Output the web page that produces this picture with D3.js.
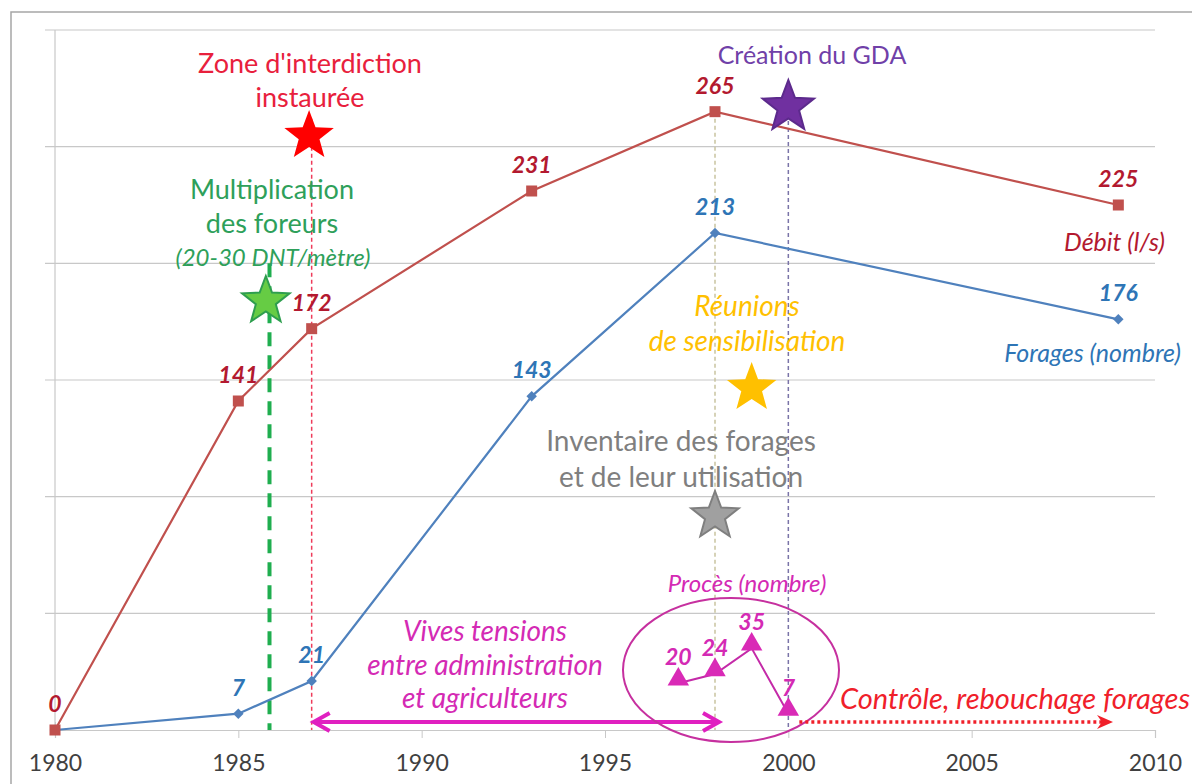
<!DOCTYPE html>
<html>
<head>
<meta charset="utf-8">
<script src="https://cdn.jsdelivr.net/npm/d3@7"></script>
<style>
  body { margin: 0; background: #fff; }
  text { font-family: Lato, "Open Sans", sans-serif; }
</style>
</head>
<body>
<svg id="chart" width="1192" height="784"></svg>
<script>
// series
const years = [1980, 1985, 1987, 1993, 1998, 2009];
const debit = [0, 141, 172, 231, 265, 225];
const forages = [0, 7, 21, 143, 213, 176];
const procesYears = [1997, 1998, 1999, 2000];
const proces = [20, 24, 35, 7];

const xTicks = [1980, 1985, 1990, 1995, 2000, 2005, 2010];
const yTicks = [0, 50, 100, 150, 200, 250, 300];

// events (year + text lines)
const evZone = { year: 1987, lines: ["Zone d'interdiction", "instaurée"] };
const evForeurs = { year: 1985.85, lines: ["Multiplication", "des foreurs"], note: "(20-30 DNT/mètre)" };
const evGDA = { year: 2000, lines: ["Création du GDA"] };
const evReunions = { year: 1999, lines: ["Réunions", "de sensibilisation"] };
const evInventaire = { year: 1998, lines: ["Inventaire des forages", "et de leur utilisation"] };
const tensionSpan = [1987, 1998];
const tensionLines = ["Vives tensions", "entre administration", "et agriculteurs"];
const controleSpan = [2000.3, 2008.8];

const svg = d3.select("#chart");
const x = d3.scaleLinear().domain([1980, 2010]).range([55, 1155]);
const y = d3.scaleLinear().domain([0, 300]).range([730, 30]);

// outer frame
svg.append("rect")
  .attr("x", 11).attr("y", 12)
  .attr("width", 1200).attr("height", 800)
  .attr("fill", "none").attr("stroke", "#a6a6a6").attr("stroke-width", 1.5);

// gridlines
svg.append("g")
  .selectAll("line")
  .data(yTicks.slice(1))
  .join("line")
  .attr("x1", 45).attr("x2", x(2010))
  .attr("y1", d => y(d)).attr("y2", d => y(d))
  .attr("stroke", "#c8c8c8").attr("stroke-width", 1.2);

// y axis line (no labels)
svg.append("line")
  .attr("x1", x(1980)).attr("x2", x(1980))
  .attr("y1", y(300)).attr("y2", y(0))
  .attr("stroke", "#c8c8c8").attr("stroke-width", 1.2);

// x axis
const xAxis = svg.append("g")
  .attr("transform", `translate(0,${y(0)})`)
  .call(d3.axisBottom(x).tickValues(xTicks).tickFormat(d3.format("d")).tickSize(8));
xAxis.select(".domain").attr("stroke", "#c8c8c8").attr("stroke-width", 1.2);
xAxis.selectAll(".tick line").attr("stroke", "#c8c8c8");
xAxis.selectAll(".tick text")
  .attr("y", 33).attr("dy", "0.36em")
  .attr("fill", "#404040")
  .style("font-size", "23px")
  .style("font-family", "Lato, sans-serif");
xAxis.selectAll(".tick").filter(d => d === 1980)
  .select("line").attr("y1", -8).attr("y2", 0);

function starPath(cx, cy, R) {
  const r = R * 0.42;
  const p = d3.path();
  for (let i = 0; i < 10; i++) {
    const a = -Math.PI / 2 + i * Math.PI / 5;
    const rr = i % 2 === 0 ? R : r;
    const px = cx + rr * Math.cos(a), py = cy + rr * Math.sin(a);
    if (i === 0) p.moveTo(px, py); else p.lineTo(px, py);
  }
  p.closePath();
  return p.toString();
}

function vline(year, y1, y2, color, width, dash) {
  svg.append("line")
    .attr("x1", x(year)).attr("x2", x(year))
    .attr("y1", y1).attr("y2", y2)
    .attr("stroke", color).attr("stroke-width", width)
    .attr("stroke-dasharray", dash);
}

function multiline(lines, cx, cy, gap, color, size, style) {
  lines.forEach((t, i) => {
    svg.append("text")
      .attr("x", cx).attr("y", cy + i * gap)
      .attr("text-anchor", "middle")
      .attr("dominant-baseline", "central")
      .attr("fill", color)
      .style("font-size", size + "px")
      .style("font-style", style || "normal")
      .text(t);
  });
}

// event reference lines
vline(evZone.year, y(262), y(0), "#ee3b5a", 1.5, "4,3");
vline(evInventaire.year, y(265), y(0), "#c9c4a0", 1.5, "4,3");
vline(evGDA.year, y(267), y(0), "#7a74a8", 1.5, "4,3");
vline(evForeurs.year, y(200), y(0), "#1fae4f", 4, "14,9");

// series lines
const line = d3.line().x(d => x(d[0])).y(d => y(d[1]));
const debitPts = years.map((yr, i) => [yr, debit[i]]);
const foragesPts = years.map((yr, i) => [yr, forages[i]]);
const procesPts = procesYears.map((yr, i) => [yr, proces[i]]);

svg.append("path").datum(foragesPts).attr("d", line)
  .attr("fill", "none").attr("stroke", "#4f81bd").attr("stroke-width", 2.2);
svg.append("path").datum(debitPts).attr("d", line)
  .attr("fill", "none").attr("stroke", "#c0504d").attr("stroke-width", 2.2);
svg.append("path").datum(procesPts).attr("d", line)
  .attr("fill", "none").attr("stroke", "#c42aa8").attr("stroke-width", 2);

// markers
svg.append("g").selectAll("path").data(foragesPts).join("path")
  .attr("transform", d => `translate(${x(d[0])},${y(d[1])})`)
  .attr("d", d3.symbol(d3.symbolDiamond2, 70))
  .attr("fill", "#4f81bd");
svg.append("g").selectAll("rect").data(debitPts).join("rect")
  .attr("x", d => x(d[0]) - 5.5).attr("y", d => y(d[1]) - 5.5)
  .attr("width", 11).attr("height", 11)
  .attr("fill", "#c0504d");
svg.append("g").selectAll("path").data(procesPts).join("path")
  .attr("transform", d => `translate(${x(d[0])},${y(d[1]) - 4})`)
  .attr("d", d3.symbol(d3.symbolTriangle, 200))
  .attr("fill", "#d92ab6");

// value labels
function valueLabels(pts, color) {
  svg.append("g").selectAll("text").data(pts).join("text")
    .attr("x", d => x(d[0])).attr("y", d => y(d[1]) - 27)
    .attr("text-anchor", "middle")
    .attr("dominant-baseline", "central")
    .attr("fill", color)
    .style("font-size", "23px")
    .style("font-weight", "bold")
    .style("font-style", "italic")
    .text(d => d[1]);
}
valueLabels(debitPts, "#b3192f");
valueLabels(foragesPts.filter(d => d[1] > 0), "#2e75b6");
valueLabels(procesPts, "#d42ab4");

// series names
svg.append("text").attr("x", 1165).attr("y", 241)
  .attr("text-anchor", "end").attr("dominant-baseline", "central")
  .attr("fill", "#b3192f").style("font-size", "25px").style("font-style", "italic")
  .text("Débit (l/s)");
svg.append("text").attr("x", 1181).attr("y", 352)
  .attr("text-anchor", "end").attr("dominant-baseline", "central")
  .attr("fill", "#2e75b6").style("font-size", "25px").style("font-style", "italic")
  .text("Forages (nombre)");
svg.append("text").attr("x", 747).attr("y", 582)
  .attr("text-anchor", "middle").attr("dominant-baseline", "central")
  .attr("fill", "#d42ab4").style("font-size", "24px").style("font-style", "italic")
  .text("Procès (nombre)");

// stars
function star(year, cy, R, fill, stroke) {
  svg.append("path")
    .attr("d", starPath(x(year), cy, R))
    .attr("fill", fill)
    .attr("stroke", stroke || "none")
    .attr("stroke-width", 2);
}
star(evZone.year - 0.07, 136, 26, "#ff0000");
star(evForeurs.year - 0.1, 301, 25, "#66cc44", "#2e9e4e");
star(evGDA.year, 107, 27, "#7030a0", "#5c2a8c");
star(evReunions.year, 388, 26, "#ffc000");
star(evInventaire.year, 516, 25, "#a0a0a0", "#7f7f7f");

// event texts
multiline(evZone.lines, 310, 62, 34, "#e8203c", 27);
multiline(evForeurs.lines, 272, 188, 34, "#2ea05a", 27);
multiline([evForeurs.note], 273, 256, 34, "#2ea05a", 24, "italic");
multiline(evGDA.lines, 812, 54, 34, "#7040a8", 25);
multiline(evReunions.lines, 747, 305, 35, "#ffc000", 28, "italic");
multiline(evInventaire.lines, 681, 440, 36, "#7f7f7f", 28);
multiline(tensionLines, 485, 630, 33.5, "#d42ab4", 28, "italic");

// double arrow: tensions
const ay = 722;
svg.append("line")
  .attr("x1", x(tensionSpan[0]) + 2).attr("x2", x(tensionSpan[1]) + 4)
  .attr("y1", ay).attr("y2", ay)
  .attr("stroke", "#e020c0").attr("stroke-width", 4);
function chevron(xt, dir, color, w) {
  svg.append("path")
    .attr("d", `M${xt + dir * 16},${ay - 9} L${xt},${ay} L${xt + dir * 16},${ay + 9}`)
    .attr("fill", "none").attr("stroke", color).attr("stroke-width", w)
    .attr("stroke-linejoin", "miter");
}
chevron(x(tensionSpan[0]) + 2, 1, "#e020c0", 4);
chevron(x(tensionSpan[1]) + 4, -1, "#e020c0", 4);

// ellipse around procès
svg.append("ellipse")
  .attr("cx", 731).attr("cy", 670).attr("rx", 108).attr("ry", 72)
  .attr("fill", "none").attr("stroke", "#c6309f").attr("stroke-width", 2);

// dotted arrow: controle
svg.append("line")
  .attr("x1", x(controleSpan[0])).attr("x2", x(controleSpan[1]) - 4)
  .attr("y1", ay).attr("y2", ay)
  .attr("stroke", "#f0202a").attr("stroke-width", 3.5)
  .attr("stroke-dasharray", "3,3");
svg.append("path")
  .attr("d", `M${x(controleSpan[1]) - 14},${ay - 7} L${x(controleSpan[1]) + 2},${ay} L${x(controleSpan[1]) - 14},${ay + 7} L${x(controleSpan[1]) - 9},${ay} Z`)
  .attr("fill", "#f0202a");
svg.append("text").attr("x", 1190).attr("y", 697)
  .attr("text-anchor", "end").attr("dominant-baseline", "central")
  .attr("fill", "#f0202a").style("font-size", "29px").style("font-style", "italic")
  .text("Contrôle, rebouchage forages");
</script>
</body>
</html>
